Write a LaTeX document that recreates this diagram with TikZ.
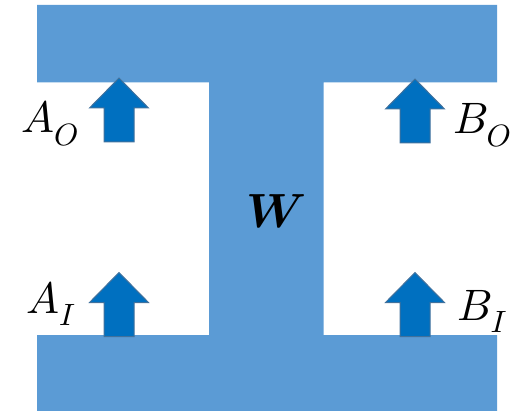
\documentclass[tikz,border=0pt]{standalone}
\usepackage{amsmath,bm}
\DeclareFontShape{OML}{cmm}{m}{it}{<->cmmi10}{}
\DeclareFontShape{OML}{cmm}{b}{it}{<->cmmib10}{}
\usetikzlibrary{calc}
\definecolor{barblue}{HTML}{5B9BD5}
\definecolor{arrowfill}{HTML}{0070C0}
\definecolor{arrowline}{HTML}{41719C}
\tikzset{
  beam/.style={fill=barblue, draw=none},
  blockarrow/.style={fill=arrowfill, draw=arrowline, line width=1pt, line join=miter},
  lbl/.style={inner sep=0pt, anchor=base west, font=\fontsize{44}{44}\selectfont},
  pics/uparrow/.style={code={
    \path[blockarrow] (0,0) -- (29.5,30) -- (15,30) -- (15,64) -- (-15,64) -- (-15,30) -- (-29.5,30) -- cycle;
  }}
}
\begin{document}
\begin{tikzpicture}[x=1pt,y=-1pt]
\useasboundingbox (0,0) rectangle (516,411);
% I-beam
\path[beam] (37,5) -- (497,5) -- (497,82.5) -- (323.5,82.5) -- (323.5,335) -- (497,335) -- (497,411) -- (37,411) -- (37,335) -- (209,335) -- (209,82.5) -- (37,82.5) -- cycle;
% arrows
\pic at (119,78) {uparrow};
\pic at (119,272.5) {uparrow};
\pic at (415,79) {uparrow};
\pic at (415,272.5) {uparrow};
% labels
\node[lbl] (ao) at (21,133) {$A_O$};
\node[lbl] (ai) at (26,313) {$A_I$};
\node[lbl] (bo) at (453,134) {$B_O$};
\node[lbl] (bi) at (457,320) {$B_I$};
\node[inner sep=0pt, anchor=base, font=\fontsize{48}{48}\selectfont] (w) at (277,228) {$\bm{W}$};
\end{tikzpicture}
\end{document}
